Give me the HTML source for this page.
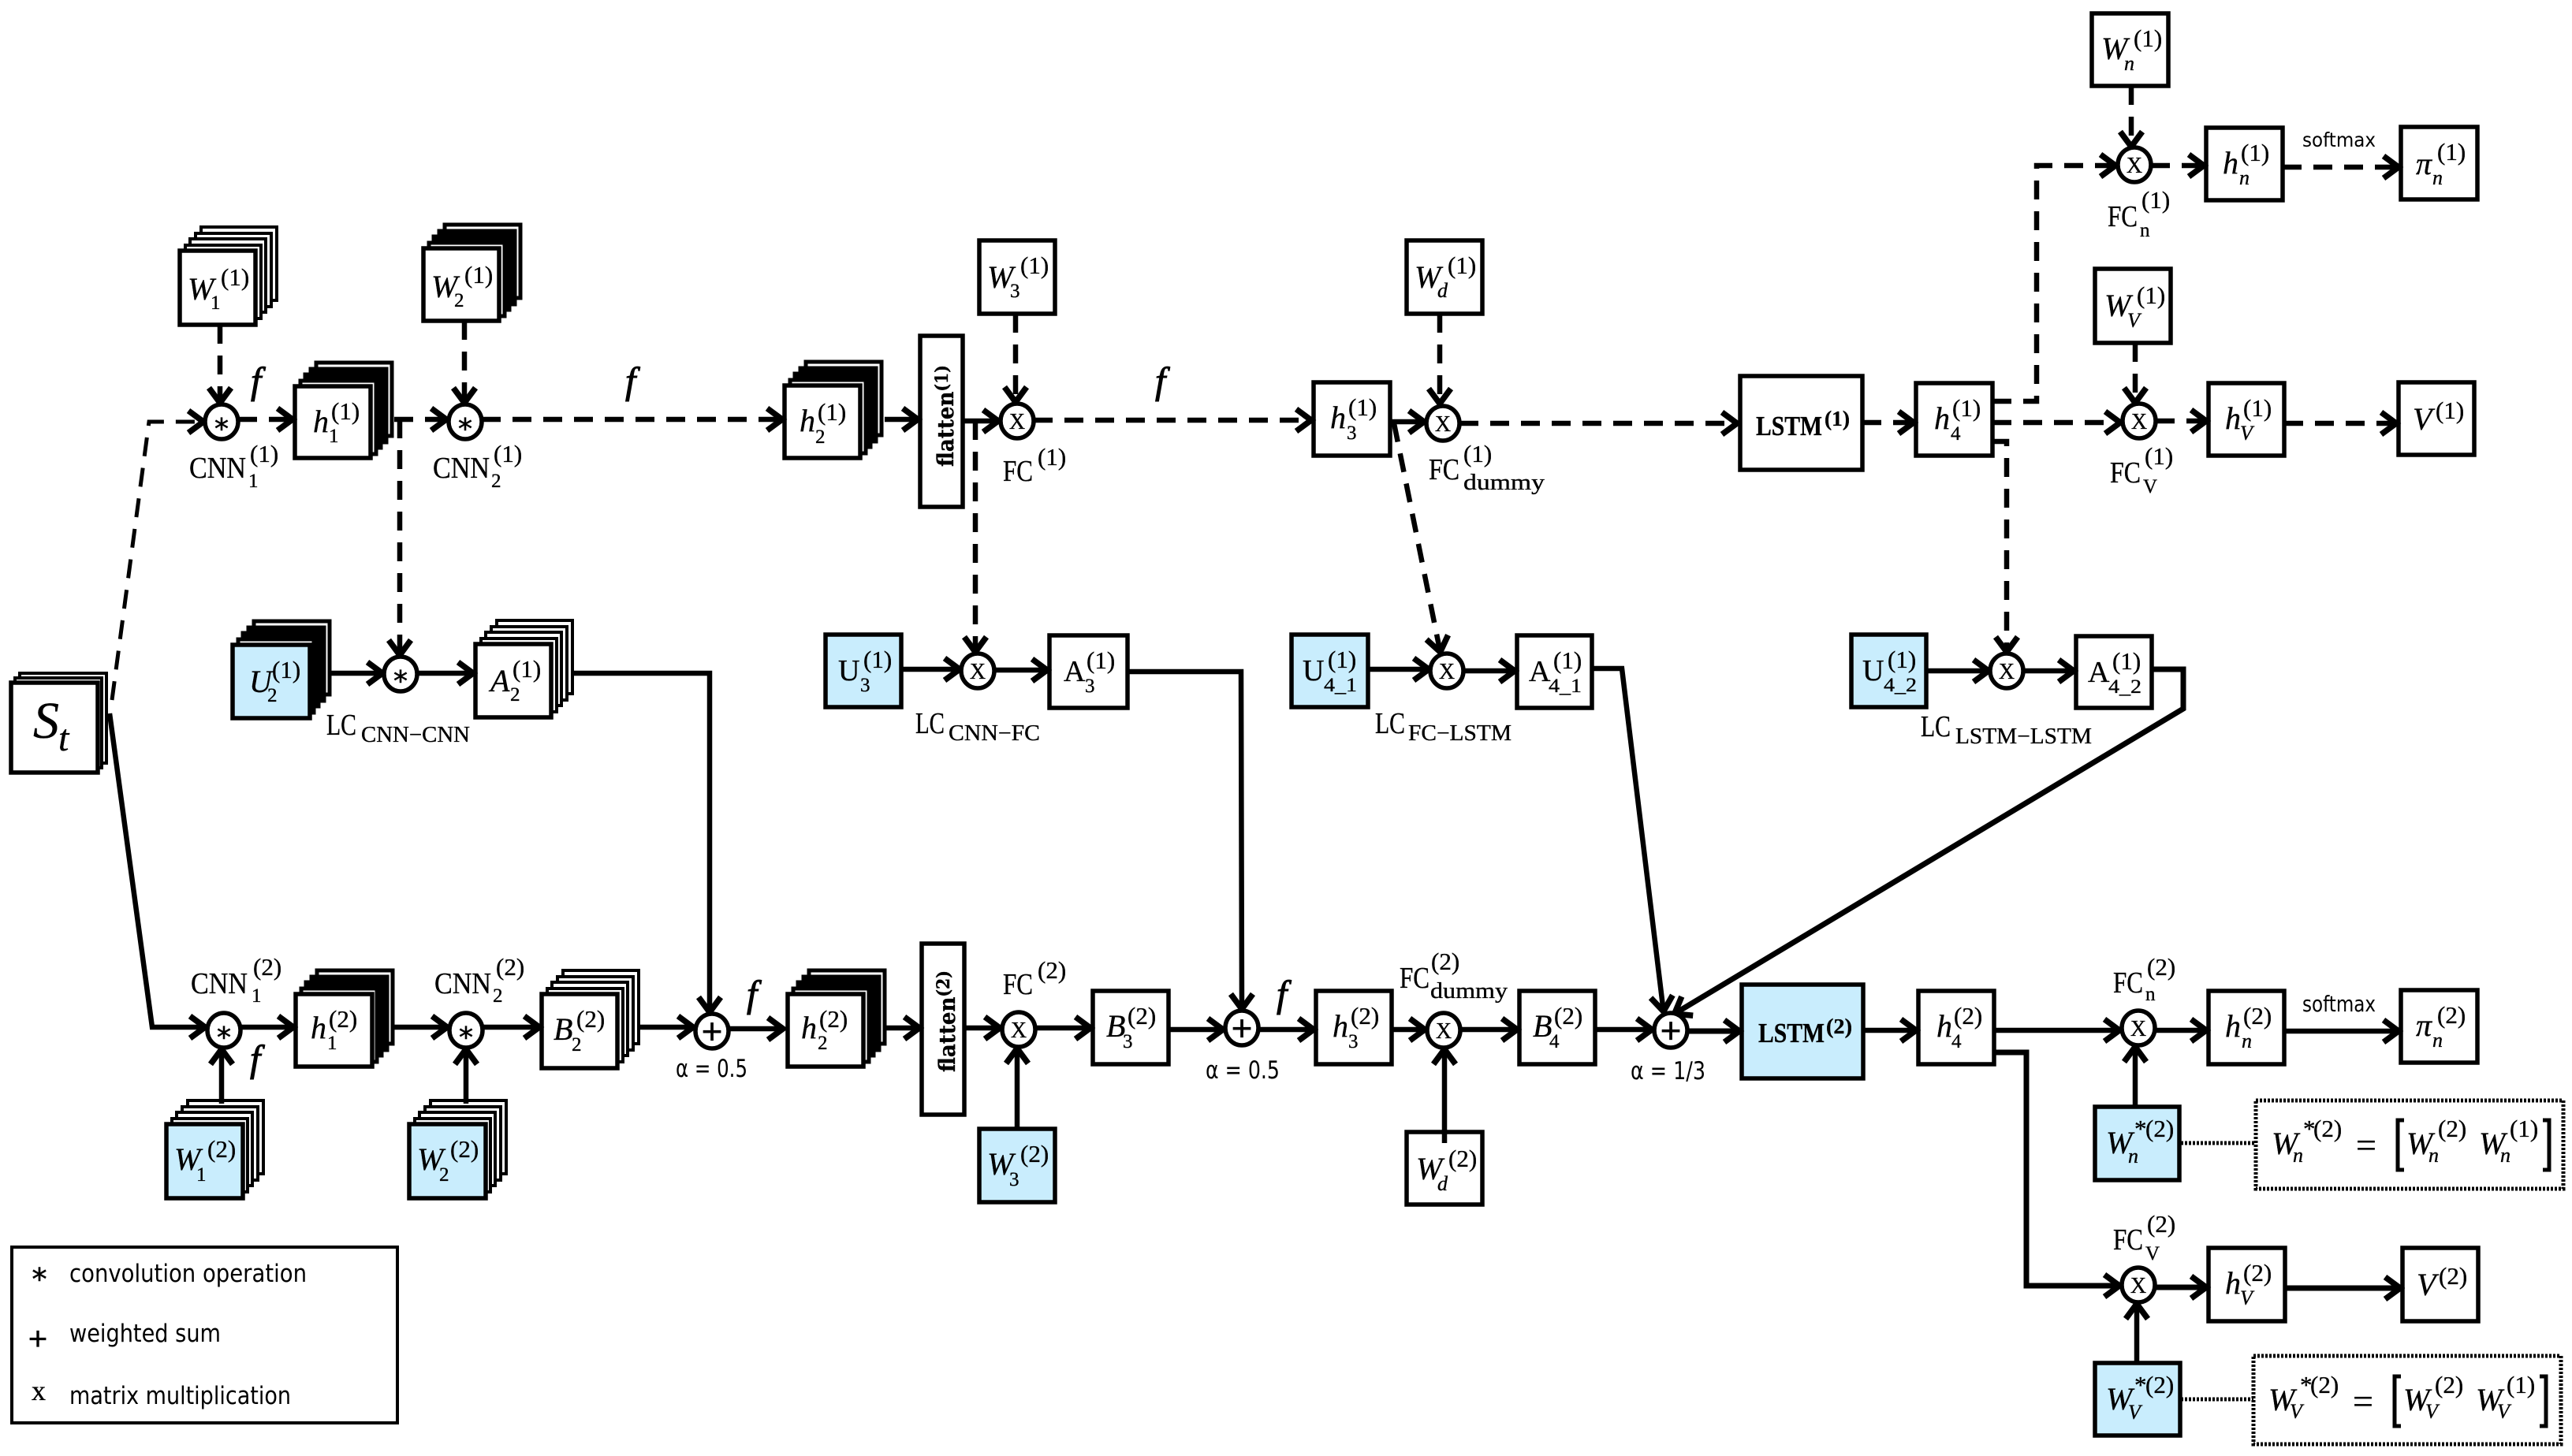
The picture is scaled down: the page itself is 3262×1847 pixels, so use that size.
<!DOCTYPE html>
<html><head><meta charset="utf-8"><style>
html,body{margin:0;padding:0;background:#fff}
svg{display:block}
.b{fill:#fff;stroke:#000;stroke-width:5.5}
.c{fill:#c9edfd;stroke:#000;stroke-width:5.5}
.o{fill:#fff;stroke:#000;stroke-width:5.5}
text{font-family:"Liberation Serif",serif;fill:#000;stroke:#000;stroke-width:.35}
.i{font-style:italic;font-size:40px}
.r{font-size:38px}
.u{font-size:31px}
.d{font-size:25px}
.di{font-size:26px;font-style:italic}
.l{font-size:38px}
.g{font-size:28px}
.f{font-style:italic;font-size:48px;stroke-width:1}
.x{font-size:28px;text-anchor:middle}
.p{font-family:"Liberation Sans",sans-serif;font-size:46px;text-anchor:middle}
.a{font-family:"DejaVu Sans",sans-serif;font-size:36px;text-anchor:middle;stroke-width:.6}
.s{font-family:"DejaVu Sans",sans-serif;font-size:26px;stroke-width:0}
.h{font-family:"DejaVu Sans",sans-serif;font-size:31px;stroke-width:0}
.bd{font-weight:bold;font-size:35px}
.ft{font-family:"DejaVu Serif",serif;font-weight:bold;font-size:28px}
.ln{fill:none;stroke:#000;stroke-width:6.5;stroke-linejoin:miter}
.ds{stroke-dasharray:24 15}
.dt{fill:none;stroke:#000;stroke-width:5;stroke-dasharray:3 2}
</style></head><body>
<svg xmlns="http://www.w3.org/2000/svg" width="3262" height="1847" viewBox="0 0 3262 1847">
<defs>
<marker id="a" markerUnits="userSpaceOnUse" markerWidth="50" markerHeight="50" refX="30" refY="25" orient="auto"><path d="M9,11 L28,25 L9,39" fill="none" stroke="#000" stroke-width="7.5"/></marker>
<g id="st" fill="#fff" stroke="#000" stroke-width="4"><rect x="27" y="-30" width="96" height="93"/><rect x="20" y="-22" width="96" height="93"/><rect x="13" y="-15" width="96" height="93"/><rect x="7" y="-7" width="96" height="93"/></g>
<g id="sh" stroke="#000" stroke-width="5"><rect x="27" y="-30" width="96" height="93" fill="#fff"/><rect x="20" y="-22" width="96" height="93" fill="#000"/><rect x="13" y="-15" width="96" height="93" fill="#000"/><rect x="7" y="-7" width="96" height="93" fill="#fff"/></g>
</defs>

<!-- St -->
<g transform="translate(14,866)" fill="#fff" stroke="#000" stroke-width="4"><rect x="11" y="-12" width="110" height="114"/><rect x="5" y="-6" width="110" height="114"/></g>
<g transform="translate(14,866)"><rect class="b" width="110" height="114"/><text x="28" y="70" style="font-style:italic;font-size:66px">S</text><text x="60" y="86" style="font-style:italic;font-size:48px">t</text></g>

<!-- top stacked -->
<g transform="translate(228,318)"><use href="#st"/><rect class="b" width="96" height="94"/><text class="i" x="10" y="62">W</text><text class="u" x="52" y="44">(1)</text><text class="d" x="39" y="74">1</text></g>
<g transform="translate(537,315)"><use href="#sh"/><rect class="b" width="96" height="92"/><text class="i" x="10" y="62">W</text><text class="u" x="52" y="44">(1)</text><text class="d" x="39" y="74">2</text></g>
<g transform="translate(374,490)"><use href="#sh"/><rect class="b" width="96" height="91"/><text class="i" x="23" y="58">h</text><text class="u" x="46" y="42">(1)</text><text class="d" x="43" y="71">1</text></g>
<g transform="translate(995,489)"><use href="#sh"/><rect class="b" width="96" height="92"/><text class="i" x="19" y="58">h</text><text class="u" x="42" y="44">(1)</text><text class="d" x="39" y="73">2</text></g>
<g transform="translate(295,818)"><use href="#sh"/><rect class="c" width="98" height="93"/><text class="i" x="21" y="60">U</text><text class="u" x="50" y="42">(1)</text><text class="d" x="44" y="72">2</text></g>
<g transform="translate(603,817)"><use href="#st"/><rect class="b" width="96" height="93"/><text class="i" x="19" y="60">A</text><text class="u" x="47" y="42">(1)</text><text class="d" x="44" y="72">2</text></g>

<!-- top plain boxes -->
<g transform="translate(1242,305)"><rect class="b" width="96" height="93"/><text class="i" x="10" y="60">W</text><text class="u" x="52" y="42">(1)</text><text class="d" x="39" y="72">3</text></g>
<g transform="translate(1784,305)"><rect class="b" width="96" height="93"/><text class="i" x="10" y="60">W</text><text class="u" x="52" y="42">(1)</text><text class="di" x="39" y="72">d</text></g>
<rect class="b" x="1167" y="426" width="54" height="217"/>
<text class="ft" transform="translate(1209,592) rotate(-90)" textLength="129" lengthAdjust="spacingAndGlyphs">flatten<tspan font-size="22" dy="-7">(1)</tspan></text>
<g transform="translate(1666,485)"><rect class="b" width="97" height="93"/><text class="i" x="21" y="58">h</text><text class="u" x="44" y="42">(1)</text><text class="d" x="42" y="72">3</text></g>
<rect class="b" x="2207" y="477" width="155" height="119"/>
<text class="bd" x="2227" y="552" textLength="84" lengthAdjust="spacingAndGlyphs">LSTM</text><text class="bd" x="2314" y="540" style="font-size:27px" textLength="32" lengthAdjust="spacingAndGlyphs">(1)</text>
<g transform="translate(2430,486)"><rect class="b" width="97" height="92"/><text class="i" x="23" y="58">h</text><text class="u" x="46" y="42">(1)</text><text class="d" x="44" y="72">4</text></g>
<g transform="translate(2653,17)"><rect class="b" width="97" height="92"/><text class="i" x="12" y="58">W</text><text class="u" x="53" y="42">(1)</text><text class="di" x="41" y="72">n</text></g>
<g transform="translate(2798,162)"><rect class="b" width="97" height="92"/><text class="i" x="21" y="58">h</text><text class="u" x="44" y="42">(1)</text><text class="di" x="42" y="72">n</text></g>
<g transform="translate(3045,161)"><rect class="b" width="97" height="92"/><text class="i" x="19" y="60">π</text><text class="u" x="46" y="42">(1)</text><text class="di" x="40" y="73">n</text></g>
<g transform="translate(2657,341)"><rect class="b" width="96" height="94"/><text class="i" x="12" y="60">W</text><text class="u" x="53" y="44">(1)</text><text class="di" x="41" y="74">V</text></g>
<g transform="translate(2801,486)"><rect class="b" width="96" height="92"/><text class="i" x="21" y="58">h</text><text class="u" x="44" y="42">(1)</text><text class="di" x="40" y="72">V</text></g>
<g transform="translate(3042,485)"><rect class="b" width="96" height="92"/><text class="i" x="18" y="60">V</text><text class="u" x="47" y="46">(1)</text></g>

<!-- LC row boxes -->
<g transform="translate(1047,805)"><rect class="c" width="96" height="92"/><text class="r" x="16" y="58">U</text><text class="u" x="48" y="42">(1)</text><text class="d" x="44" y="72">3</text></g>
<g transform="translate(1331,806)"><rect class="b" width="99" height="92"/><text class="r" x="18" y="58">A</text><text class="u" x="47" y="42">(1)</text><text class="d" x="45" y="72">3</text></g>
<g transform="translate(1638,805)"><rect class="c" width="97" height="92"/><text class="r" x="14" y="58">U</text><text class="u" x="46" y="42">(1)</text><text class="d" x="41" y="72" textLength="42" lengthAdjust="spacingAndGlyphs">4_1</text></g>
<g transform="translate(1924,806)"><rect class="b" width="95" height="92"/><text class="r" x="15" y="58">A</text><text class="u" x="46" y="42">(1)</text><text class="d" x="40" y="72" textLength="42" lengthAdjust="spacingAndGlyphs">4_1</text></g>
<g transform="translate(2348,805)"><rect class="c" width="95" height="92"/><text class="r" x="14" y="58">U</text><text class="u" x="46" y="42">(1)</text><text class="d" x="41" y="72" textLength="42" lengthAdjust="spacingAndGlyphs">4_2</text></g>
<g transform="translate(2633,807)"><rect class="b" width="96" height="91"/><text class="r" x="15" y="58">A</text><text class="u" x="46" y="42">(1)</text><text class="d" x="41" y="72" textLength="42" lengthAdjust="spacingAndGlyphs">4_2</text></g>

<!-- bottom row -->
<g transform="translate(375,1261)"><use href="#sh"/><rect class="b" width="97" height="92"/><text class="i" x="19" y="56">h</text><text class="u" x="42" y="42">(2)</text><text class="d" x="40" y="70">1</text></g>
<g transform="translate(687,1261)"><use href="#st"/><rect class="b" width="96" height="94"/><text class="i" x="15" y="58">B</text><text class="u" x="44" y="42">(2)</text><text class="d" x="38" y="72">2</text></g>
<g transform="translate(999,1261)"><use href="#sh"/><rect class="b" width="96" height="92"/><text class="i" x="17" y="56">h</text><text class="u" x="40" y="42">(2)</text><text class="d" x="38" y="70">2</text></g>
<g transform="translate(211,1426)"><use href="#st"/><rect class="c" width="97" height="94"/><text class="i" x="10" y="58">W</text><text class="u" x="52" y="42">(2)</text><text class="d" x="38" y="72">1</text></g>
<g transform="translate(519,1426)"><use href="#st"/><rect class="c" width="97" height="94"/><text class="i" x="10" y="58">W</text><text class="u" x="52" y="42">(2)</text><text class="d" x="38" y="72">2</text></g>
<rect class="b" x="1169" y="1197" width="54" height="217"/>
<text class="ft" transform="translate(1211,1360) rotate(-90)" textLength="129" lengthAdjust="spacingAndGlyphs">flatten<tspan font-size="22" dy="-7">(2)</tspan></text>
<g transform="translate(1386,1257)"><rect class="b" width="96" height="93"/><text class="i" x="17" y="58">B</text><text class="u" x="44" y="42">(2)</text><text class="d" x="38" y="72">3</text></g>
<g transform="translate(1669,1257)"><rect class="b" width="96" height="93"/><text class="i" x="21" y="58">h</text><text class="u" x="44" y="42">(2)</text><text class="d" x="41" y="72">3</text></g>
<g transform="translate(1927,1257)"><rect class="b" width="96" height="93"/><text class="i" x="17" y="58">B</text><text class="u" x="44" y="42">(2)</text><text class="d" x="38" y="72">4</text></g>
<g transform="translate(1242,1432)"><rect class="c" width="96" height="93"/><text class="i" x="10" y="58">W</text><text class="u" x="52" y="42">(2)</text><text class="d" x="38" y="72">3</text></g>
<g transform="translate(1784,1436)"><rect class="b" width="96" height="92"/><text class="i" x="12" y="60">W</text><text class="u" x="53" y="44">(2)</text><text class="di" x="39" y="74">d</text></g>
<rect class="c" x="2209" y="1249" width="154" height="119"/>
<text class="bd" x="2230" y="1322" textLength="84" lengthAdjust="spacingAndGlyphs">LSTM</text><text class="bd" x="2316" y="1311" style="font-size:27px" textLength="33" lengthAdjust="spacingAndGlyphs">(2)</text>
<g transform="translate(2433,1257)"><rect class="b" width="96" height="93"/><text class="i" x="23" y="58">h</text><text class="u" x="45" y="42">(2)</text><text class="d" x="42" y="72">4</text></g>
<g transform="translate(2801,1257)"><rect class="b" width="96" height="93"/><text class="i" x="21" y="58">h</text><text class="u" x="44" y="42">(2)</text><text class="di" x="42" y="72">n</text></g>
<g transform="translate(3045,1256)"><rect class="b" width="97" height="92"/><text class="i" x="19" y="58">π</text><text class="u" x="46" y="42">(2)</text><text class="di" x="40" y="72">n</text></g>
<g transform="translate(2801,1583)"><rect class="b" width="97" height="93"/><text class="i" x="21" y="58">h</text><text class="u" x="44" y="42">(2)</text><text class="di" x="40" y="72">V</text></g>
<g transform="translate(3047,1583)"><rect class="b" width="96" height="93"/><text class="i" x="18" y="60">V</text><text class="u" x="46" y="46">(2)</text></g>
<g transform="translate(2657,1404)"><rect class="c" width="107" height="93"/><text class="i" x="14" y="59">W</text><text class="u" x="50" y="38">*</text><text class="u" x="64" y="38">(2)</text><text class="di" x="42" y="71">n</text></g>
<g transform="translate(2657,1729)"><rect class="c" width="108" height="92"/><text class="i" x="14" y="59">W</text><text class="u" x="50" y="38">*</text><text class="u" x="64" y="38">(2)</text><text class="di" x="42" y="71">V</text></g>

<!-- equations -->
<rect class="dt" x="2861" y="1396" width="390" height="112"/>
<rect class="dt" x="2858" y="1720" width="390" height="112"/>
<path class="dt" d="M2766,1450H2861M2766,1775H2858"/>
<g transform="translate(2881,1464)"><text class="i" x="0" y="0">W</text><text class="u" x="40" y="-22">*</text><text class="u" x="53" y="-22">(2)</text><text class="di" x="27" y="10">n</text><text x="107" y="4" style="font-size:46px">=</text>
<path d="M168,-43H160V20H168M344,-43H352V20H344" fill="none" stroke="#000" stroke-width="5"/>
<text class="i" x="171" y="0">W</text><text class="u" x="211" y="-22">(2)</text><text class="di" x="199" y="10">n</text><text class="i" x="263" y="0">W</text><text class="u" x="302" y="-22">(1)</text><text class="di" x="290" y="10">n</text></g>
<g transform="translate(2877,1789)"><text class="i" x="0" y="0">W</text><text class="u" x="40" y="-22">*</text><text class="u" x="53" y="-22">(2)</text><text class="di" x="27" y="10">V</text><text x="107" y="4" style="font-size:46px">=</text>
<path d="M168,-43H160V20H168M344,-43H352V20H344" fill="none" stroke="#000" stroke-width="5"/>
<text class="i" x="171" y="0">W</text><text class="u" x="211" y="-22">(2)</text><text class="di" x="199" y="10">V</text><text class="i" x="263" y="0">W</text><text class="u" x="302" y="-22">(1)</text><text class="di" x="290" y="10">V</text></g>

<!-- dashed connectors -->
<g class="ln ds">
<path d="M142,888L189,535H260" marker-end="url(#a)" style="stroke-width:5"/>
<path d="M279,412V513" marker-end="url(#a)"/>
<path d="M302,532H373" marker-end="url(#a)"/>
<path d="M500,532H568" marker-end="url(#a)"/>
<path d="M589,407V513" marker-end="url(#a)"/>
<path d="M611,532H994" marker-end="url(#a)"/>
<path d="M507,532V833" marker-end="url(#a)"/>
<path d="M1288,398V512" marker-end="url(#a)"/>
<path d="M1311,533H1665" marker-end="url(#a)"/>
<path d="M1237,534V829" marker-end="url(#a)"/>
<path d="M1826,398V514" marker-end="url(#a)"/>
<path d="M1851,537H2205" marker-end="url(#a)"/>
<path d="M1768,537L1827,829" marker-end="url(#a)"/>
<path d="M2362,536H2429" marker-end="url(#a)"/>
<path d="M2527,509H2583V210H2685" marker-end="url(#a)"/>
<path d="M2527,536H2691" marker-end="url(#a)"/>
<path d="M2527,560H2545V829" marker-end="url(#a)"/>
<path d="M2703,109V188" marker-end="url(#a)"/>
<path d="M2728,210H2797" marker-end="url(#a)"/>
<path d="M2895,212H3044" marker-end="url(#a)"/>
<path d="M2708,435V513" marker-end="url(#a)"/>
<path d="M2734,534H2800" marker-end="url(#a)"/>
<path d="M2897,537H3041" marker-end="url(#a)"/>
</g>
<!-- solid connectors -->
<g class="ln">
<path d="M1122,532H1166" marker-end="url(#a)"/>
<path d="M1221,534H1268" marker-end="url(#a)"/>
<path d="M1763,535H1808" marker-end="url(#a)"/>
<path d="M420,854H487" marker-end="url(#a)"/>
<path d="M529,854H602" marker-end="url(#a)"/>
<path d="M726,854H900V1286" marker-end="url(#a)"/>
<path d="M1143,849H1219" marker-end="url(#a)"/>
<path d="M1261,850H1330" marker-end="url(#a)"/>
<path d="M1430,852H1574L1575,1282" marker-end="url(#a)"/>
<path d="M1735,849H1814" marker-end="url(#a)"/>
<path d="M1856,851H1923" marker-end="url(#a)"/>
<path d="M2019,848H2057L2110,1285" marker-end="url(#a)"/>
<path d="M2443,851H2524" marker-end="url(#a)"/>
<path d="M2566,851H2632" marker-end="url(#a)"/>
<path d="M2729,849H2769V899L2122,1287" marker-end="url(#a)" style="stroke-width:7"/>
<path d="M139,905L193,1303H262" marker-end="url(#a)"/>
<path d="M306,1303H374" marker-end="url(#a)"/>
<path d="M281,1400V1329" marker-end="url(#a)"/>
<path d="M500,1303H569" marker-end="url(#a)"/>
<path d="M591,1400V1329" marker-end="url(#a)"/>
<path d="M613,1303H686" marker-end="url(#a)"/>
<path d="M810,1303H881" marker-end="url(#a)"/>
<path d="M925,1305H995" marker-end="url(#a)"/>
<path d="M1122,1304H1168" marker-end="url(#a)"/>
<path d="M1223,1304H1270" marker-end="url(#a)"/>
<path d="M1314,1304H1385" marker-end="url(#a)"/>
<path d="M1290,1432V1328" marker-end="url(#a)"/>
<path d="M1482,1306H1553" marker-end="url(#a)"/>
<path d="M1597,1306H1668" marker-end="url(#a)"/>
<path d="M1765,1306H1809" marker-end="url(#a)"/>
<path d="M1832,1450V1329" marker-end="url(#a)"/>
<path d="M1853,1306H1926" marker-end="url(#a)"/>
<path d="M2023,1306H2097" marker-end="url(#a)"/>
<path d="M2141,1308H2208" marker-end="url(#a)" style="stroke-width:7"/>
<path d="M2363,1307H2432" marker-end="url(#a)"/>
<path d="M2529,1307H2690" marker-end="url(#a)"/>
<path d="M2734,1307H2800" marker-end="url(#a)"/>
<path d="M2897,1308H3044" marker-end="url(#a)"/>
<path d="M2708,1404V1326" marker-end="url(#a)"/>
<path d="M2529,1335H2570V1631H2690" marker-end="url(#a)" style="stroke-width:7"/>
<path d="M2734,1633H2800" marker-end="url(#a)" style="stroke-width:7"/>
<path d="M2898,1634H3046" marker-end="url(#a)" style="stroke-width:7"/>
<path d="M2710,1729V1652" marker-end="url(#a)"/>
</g>

<!-- operator circles -->
<g transform="translate(281,535)"><ellipse class="o" rx="21" ry="22"/><text class="a" y="21">*</text></g>
<g transform="translate(590,535)"><ellipse class="o" rx="21" ry="22"/><text class="a" y="21">*</text></g>
<g transform="translate(508,855)"><ellipse class="o" rx="21" ry="22"/><text class="a" y="21">*</text></g>
<g transform="translate(284,1307)"><ellipse class="o" rx="21" ry="22"/><text class="a" y="21">*</text></g>
<g transform="translate(591,1307)"><ellipse class="o" rx="21" ry="22"/><text class="a" y="21">*</text></g>
<g transform="translate(903,1308)"><ellipse class="o" rx="21" ry="22"/><text class="p" y="16">+</text></g>
<g transform="translate(1575,1304)"><ellipse class="o" rx="21" ry="22"/><text class="p" y="16">+</text></g>
<g transform="translate(2119,1307)"><ellipse class="o" rx="21" ry="22"/><text class="p" y="16">+</text></g>
<g transform="translate(1290,534)"><ellipse class="o" rx="21" ry="22"/><text class="x" y="10">X</text></g>
<g transform="translate(1830,537)"><ellipse class="o" rx="21" ry="22"/><text class="x" y="10">X</text></g>
<g transform="translate(1240,851)"><ellipse class="o" rx="21" ry="22"/><text class="x" y="10">X</text></g>
<g transform="translate(1835,851)"><ellipse class="o" rx="21" ry="22"/><text class="x" y="10">X</text></g>
<g transform="translate(2545,851)"><ellipse class="o" rx="21" ry="22"/><text class="x" y="10">X</text></g>
<g transform="translate(2707,209)"><ellipse class="o" rx="21" ry="22"/><text class="x" y="10">X</text></g>
<g transform="translate(2713,534)"><ellipse class="o" rx="21" ry="22"/><text class="x" y="10">X</text></g>
<g transform="translate(1292,1306)"><ellipse class="o" rx="21" ry="22"/><text class="x" y="10">X</text></g>
<g transform="translate(1831,1307)"><ellipse class="o" rx="21" ry="22"/><text class="x" y="10">X</text></g>
<g transform="translate(2712,1304)"><ellipse class="o" rx="21" ry="22"/><text class="x" y="10">X</text></g>
<g transform="translate(2712,1630)"><ellipse class="o" rx="21" ry="22"/><text class="x" y="10">X</text></g>

<!-- operator labels -->
<text class="l" x="240" y="606" textLength="72" lengthAdjust="spacingAndGlyphs">CNN</text><text class="u" x="317" y="586">(1)</text><text class="d" x="315" y="618">1</text>
<text class="l" x="549" y="606" textLength="72" lengthAdjust="spacingAndGlyphs">CNN</text><text class="u" x="626" y="586">(1)</text><text class="d" x="623" y="618">2</text>
<text class="l" x="414" y="932" textLength="38" lengthAdjust="spacingAndGlyphs">LC</text><text class="g" x="458" y="941" textLength="138" lengthAdjust="spacingAndGlyphs">CNN−CNN</text>
<text class="l" x="1161" y="930" textLength="37" lengthAdjust="spacingAndGlyphs">LC</text><text class="g" x="1203" y="939" textLength="116" lengthAdjust="spacingAndGlyphs">CNN−FC</text>
<text class="l" x="1744" y="930" textLength="38" lengthAdjust="spacingAndGlyphs">LC</text><text class="g" x="1786" y="939" textLength="131" lengthAdjust="spacingAndGlyphs">FC−LSTM</text>
<text class="l" x="2436" y="934" textLength="38" lengthAdjust="spacingAndGlyphs">LC</text><text class="g" x="2480" y="943" textLength="173" lengthAdjust="spacingAndGlyphs">LSTM−LSTM</text>
<text class="l" x="1272" y="610" textLength="38" lengthAdjust="spacingAndGlyphs">FC</text><text class="u" x="1316" y="590">(1)</text>
<text class="l" x="1812" y="608" textLength="39" lengthAdjust="spacingAndGlyphs">FC</text><text class="u" x="1856" y="586">(1)</text><text class="g" x="1856" y="621" textLength="103" lengthAdjust="spacingAndGlyphs">dummy</text>
<text class="l" x="2673" y="287" textLength="38" lengthAdjust="spacingAndGlyphs">FC</text><text class="u" x="2716" y="264">(1)</text><text class="d" x="2714" y="300">n</text>
<text class="l" x="2676" y="612" textLength="39" lengthAdjust="spacingAndGlyphs">FC</text><text class="u" x="2720" y="589">(1)</text><text class="d" x="2718" y="625">V</text>
<text class="l" x="242" y="1260" textLength="72" lengthAdjust="spacingAndGlyphs">CNN</text><text class="u" x="321" y="1237">(2)</text><text class="d" x="319" y="1271">1</text>
<text class="l" x="551" y="1260" textLength="72" lengthAdjust="spacingAndGlyphs">CNN</text><text class="u" x="629" y="1237">(2)</text><text class="d" x="625" y="1271">2</text>
<text class="l" x="1272" y="1261" textLength="38" lengthAdjust="spacingAndGlyphs">FC</text><text class="u" x="1316" y="1241">(2)</text>
<text class="l" x="1775" y="1253" textLength="38" lengthAdjust="spacingAndGlyphs">FC</text><text class="u" x="1815" y="1230">(2)</text><text class="g" x="1814" y="1266" textLength="98" lengthAdjust="spacingAndGlyphs">dummy</text>
<text class="l" x="2680" y="1259" textLength="38" lengthAdjust="spacingAndGlyphs">FC</text><text class="u" x="2723" y="1237">(2)</text><text class="d" x="2721" y="1269">n</text>
<text class="l" x="2680" y="1585" textLength="38" lengthAdjust="spacingAndGlyphs">FC</text><text class="u" x="2723" y="1563">(2)</text><text class="d" x="2721" y="1598">V</text>

<!-- f -->
<text class="f" x="318" y="499">f</text><text class="f" x="793" y="499">f</text><text class="f" x="1465" y="499">f</text>
<text class="f" x="317" y="1359">f</text><text class="f" x="947" y="1277">f</text><text class="f" x="1619" y="1277">f</text>

<!-- alpha, softmax -->
<text class="h" x="857" y="1366" textLength="91" lengthAdjust="spacingAndGlyphs">α = 0.5</text>
<text class="h" x="1529" y="1368" textLength="94" lengthAdjust="spacingAndGlyphs">α = 0.5</text>
<text class="h" x="2068" y="1369" textLength="95" lengthAdjust="spacingAndGlyphs">α = 1/3</text>
<text class="s" x="2920" y="186" textLength="93" lengthAdjust="spacingAndGlyphs" style="font-size:25px">softmax</text>
<text class="s" x="2920" y="1283" textLength="93" lengthAdjust="spacingAndGlyphs" style="font-size:28px">softmax</text>

<!-- legend -->
<rect x="15" y="1582" width="489" height="223" fill="#fff" stroke="#000" stroke-width="4"/>
<text class="a" x="50" y="1636" style="font-size:38px">*</text>
<text class="p" x="48" y="1712" style="font-size:42px">+</text>
<text x="40" y="1776" style="font-size:36px">x</text>
<text class="s" x="88" y="1626" textLength="301" lengthAdjust="spacingAndGlyphs" style="font-size:31px">convolution operation</text>
<text class="s" x="88" y="1702" textLength="192" lengthAdjust="spacingAndGlyphs" style="font-size:31px">weighted sum</text>
<text class="s" x="88" y="1781" textLength="281" lengthAdjust="spacingAndGlyphs" style="font-size:31px">matrix multiplication</text>
</svg>
</body></html>
